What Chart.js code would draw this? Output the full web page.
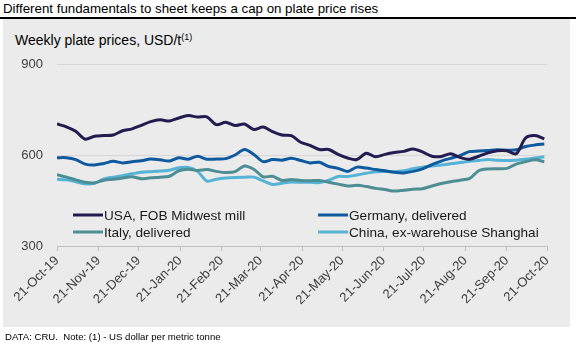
<!DOCTYPE html>
<html>
<head>
<meta charset="utf-8">
<script src="https://cdn.jsdelivr.net/npm/chart.js@4"></script>
<style>
  body { margin: 0; background: #fff; font-family: "Liberation Sans", Arial, sans-serif; }
  #wrap { position: relative; width: 576px; height: 349px; overflow: hidden; }
  #panel { position: absolute; left: 3px; top: 19px; width: 567px; height: 308px; background: #ebebeb; }
  #title { position: absolute; left: 3px; top: 1px; font-size: 13.3px; line-height: 16px; color: #000; white-space: nowrap; }
  #rule { position: absolute; left: 0; top: 17px; width: 576px; height: 2px; background: #000; }
  #subtitle { position: absolute; left: 15px; top: 32px; font-size: 14px; line-height: 16px; color: #000; white-space: nowrap; }
  #subtitle sup { font-size: 9px; vertical-align: 5px; line-height: 0; }
  #footer { position: absolute; left: 5px; top: 331px; font-size: 9.6px; line-height: 12px; color: #000; white-space: nowrap; }
  canvas { position: absolute; left: 0; top: 0; }
</style>
</head>
<body>
<div id="wrap">
  <div id="panel"></div>
  <div id="title">Different fundamentals to sheet keeps a cap on plate price rises</div>
  <div id="rule"></div>
  <div id="subtitle">Weekly plate prices, USD/t<sup>(1)</sup></div>
  <canvas id="plate-chart" width="576" height="349"></canvas>
  <div id="footer">DATA: CRU.&nbsp; Note: (1) - US dollar per metric tonne</div>
</div>
<script>
// weekly prices, USD/t, weeks starting 21-Oct-19
const usa = [702, 693, 678, 652, 662, 664, 666, 680, 686, 698, 710, 716, 712, 722, 730, 725, 726, 700, 708, 697,
  702, 684, 692, 677, 666, 664, 642, 632, 618, 618, 602, 590, 585, 606, 594, 602, 608, 612, 620, 610,
  596, 595, 604, 592, 586, 596, 607, 614, 614, 604, 656, 664, 653];
const germany = [591, 591, 585, 570, 567, 572, 579, 574, 578, 581, 587, 584, 580, 591, 586, 596, 586, 587, 588, 600,
  618, 602, 578, 585, 583, 589, 582, 574, 576, 562, 556, 546, 560, 557, 552, 548, 543, 541, 546, 554,
  568, 580, 589, 598, 611, 613, 615, 617, 616, 617, 628, 633, 636];
const italy = [535, 527, 518, 510, 508, 517, 520, 524, 528, 522, 525, 527, 530, 548, 553, 549, 552, 546, 542, 545,
  564, 553, 528, 530, 516, 519, 516, 515, 516, 510, 504, 498, 500, 496, 490, 486, 481, 484, 487, 489,
  498, 506, 512, 517, 522, 548, 554, 555, 556, 570, 578, 584, 578];
const china = [520, 518, 512, 505, 507, 521, 527, 532, 538, 543, 545, 547, 550, 558, 559, 546, 514, 520, 524, 526,
  527, 527, 515, 503, 507, 511, 510, 510, 509, 517, 529, 529, 534, 540, 545, 546, 545, 548, 555, 560,
  564, 567, 571, 575, 579, 582, 585, 583, 582, 583, 586, 590, 594];

const seriesNames = ["USA, FOB Midwest mill", "Germany, delivered", "Italy, delivered", "China, ex-warehouse Shanghai"];
const seriesColors = ["#221c50", "#0f5a9e", "#4d8d94", "#56b3d6"];

// x axis ticks, in days after 21-Oct-19
const tickDays = [0, 31, 61, 92, 123, 152, 183, 213, 244, 274, 305, 336, 366];
const tickLabels = ["21-Oct-19", "21-Nov-19", "21-Dec-19", "21-Jan-20", "21-Feb-20", "21-Mar-20", "21-Apr-20",
  "21-May-20", "21-Jun-20", "21-Jul-20", "21-Aug-20", "21-Sep-20", "21-Oct-20"];
const yTicks = [300, 600, 900];

const fontFamily = '"Liberation Sans", Arial, sans-serif';

function toPoints(values) {
  return values.map((v, i) => ({ x: i * 7, y: v }));
}

const datasets = [usa, germany, italy, china].map((values, i) => ({
  label: seriesNames[i],
  data: toPoints(values),
  borderColor: seriesColors[i],
  backgroundColor: seriesColors[i],
  borderWidth: 3,
  pointRadius: 0,
  tension: 0.3,
  fill: false
}));

// legend sits inside the plot, two columns
const insideLegend = {
  id: "insideLegend",
  afterDraw(chart) {
    const ctx = chart.ctx;
    const spots = [[73, 215], [318, 215], [73, 232], [318, 232]];
    ctx.save();
    ctx.font = "13.6px " + fontFamily;
    ctx.textBaseline = "middle";
    chart.data.datasets.forEach((ds, k) => {
      const [x, y] = spots[k];
      ctx.strokeStyle = ds.borderColor;
      ctx.lineWidth = 3;
      ctx.beginPath();
      ctx.moveTo(x, y);
      ctx.lineTo(x + 30, y);
      ctx.stroke();
      ctx.fillStyle = "#1a1a1a";
      ctx.fillText(ds.label, x + 31, y + 1);
    });
    ctx.restore();
  }
};

new Chart(document.getElementById("plate-chart"), {
  type: "line",
  data: { datasets: datasets },
  options: {
    responsive: false,
    animation: false,
    devicePixelRatio: 1,
    layout: { padding: { left: 0, top: 64, right: 29, bottom: 40 } },
    plugins: { legend: { display: false }, tooltip: { enabled: false } },
    scales: {
      x: {
        type: "linear",
        min: 0,
        max: 366,
        afterBuildTicks: (scale) => { scale.ticks = tickDays.map(v => ({ value: v })); },
        afterFit: (scale) => { scale.height = 63; },
        ticks: {
          autoSkip: false,
          minRotation: 45,
          maxRotation: 45,
          padding: 2,
          color: "#404040",
          font: { size: 13, family: fontFamily },
          callback: (value, index) => tickLabels[index]
        },
        grid: { drawOnChartArea: false, drawTicks: true, tickLength: 5, color: "#bfbfbf" },
        border: { display: true, color: "#bfbfbf" }
      },
      y: {
        min: 300,
        max: 900,
        afterBuildTicks: (scale) => { scale.ticks = yTicks.map(v => ({ value: v })); },
        afterFit: (scale) => { scale.width = 57; },
        ticks: {
          padding: 14,
          color: "#404040",
          font: { size: 13, family: fontFamily }
        },
        grid: {
          drawTicks: false,
          color: (c) => (c.tick && c.tick.value === 300 ? "rgba(0,0,0,0)" : "#d6d6d6")
        },
        border: { display: false }
      }
    }
  },
  plugins: [insideLegend]
});
</script>
</body>
</html>
